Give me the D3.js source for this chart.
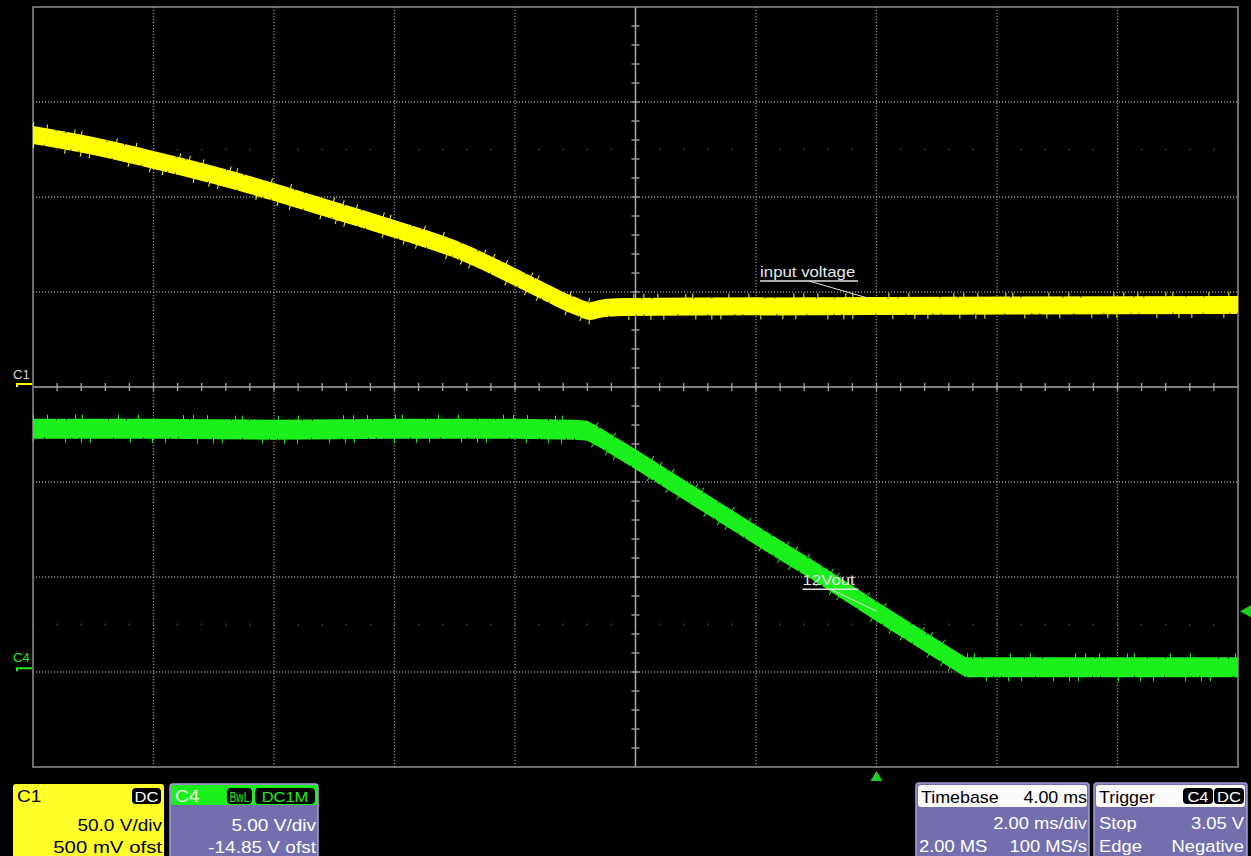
<!DOCTYPE html>
<html><head><meta charset="utf-8">
<script src="https://cdn.jsdelivr.net/npm/d3@7"></script>
<style>
html,body{margin:0;padding:0;background:#000;overflow:hidden;}
svg{display:block;}
text{font-family:"Liberation Sans",Arial,sans-serif;}
</style></head><body>
<svg id="scope" width="1251" height="856"></svg>
<script>
// ---------------- data ----------------
// time axis (ms, trigger at 0), 2 ms/div, 10 divisions
const timeTicks = [-14,-12,-10,-8,-6,-4,-2,0,2,4,6];
const divTicks  = [-4,-3,-2,-1,0,1,2,3,4];

// C1 : input voltage (V)   50 V/div, 500 mV offset
const c1Times = [-14,-13,-12,-11,-10,-9,-8,-7,-6,-5.5,-5,-4.75,-4.6,-4.2,0,6];
const c1Volts = [132.1,126.3,119.0,111.1,102.1,92.4,82.7,72.1,57.4,49.5,42.1,39.5,40.6,41.6,42.1,42.7];
// C4 : 12 V output (V)     5 V/div, -14.85 V offset
const c4Times = [-14,-12,-10,-8,-6,-5,-4.8,-4.6,-4,-3,-2,-1,0,1,1.48,2,4,6];
const c4Volts = [12.65,12.65,12.6,12.65,12.65,12.6,12.55,12.2,11.05,9.05,7.05,5.1,3.05,1.05,0.1,0.1,0.1,0.1];

const c1Scale = 50.0, c1Offset = 0.5;
const c4Scale = 5.0,  c4Offset = -14.85;
const trigTime = 0, trigLevel = 3.05;

const annotations = [
  {text:"input voltage", ch:"C1", t:-0.14, v:46.3, lx:-108, ly:-17, w:98},
  {text:"12Vout",        ch:"C4", t:0.0,   v:3.05, lx:-74,  ly:-22, w:56}
];

const c1Panel = {name:"C1", badges:["DC"], rows:["50.0 V/div","500 mV ofst"]};
const c4Panel = {name:"C4", badges:["BwL","DC1M"], rows:["5.00 V/div","-14.85 V ofst"]};
const tbPanel = {title:"Timebase", value:"4.00 ms", rows:[["","2.00 ms/div"],["2.00 MS","100 MS/s"]]};
const trPanel = {title:"Trigger", badges:["C4","DC"], rows:[["Stop","3.05 V"],["Edge","Negative"]]};

// ---------------- drawing ----------------
const svg = d3.select("#scope");
const W = 1251, H = 856;
svg.append("rect").attr("width",W).attr("height",H).attr("fill","#000");

const x = d3.scaleLinear().domain([-14,6]).range([33,1238]);
const y = d3.scaleLinear().domain([-4,4]).range([767,7]);
const c1Div = v => (v + c1Offset) / c1Scale;
const c4Div = v => (v + c4Offset) / c4Scale;

const YEL = "#ffff00", GRN = "#1cf01c", PUR = "#736fae";

// faint minor dots rows
const minorT = d3.range(-14, 6.001, 0.4);
[2.5,-2.5].forEach(d=>{
  svg.append("g").selectAll("rect").data(minorT).join("rect")
    .attr("x",t=>x(t)-1).attr("y",y(d)-1).attr("width",2).attr("height",2)
    .attr("fill","#2c2c2c");
});

// grid
const grid = svg.append("g");
grid.selectAll("line.v").data(timeTicks.filter(t=>t>-14 && t<6 && t!==-4)).join("line")
  .attr("x1",d=>x(d)).attr("x2",d=>x(d)).attr("y1",y(4)).attr("y2",y(-4))
  .attr("stroke","#8a8a8a").attr("stroke-width",1.3).attr("stroke-dasharray","1.2,1.8");
grid.selectAll("line.h").data(divTicks.filter(d=>d>-4 && d<4 && d!==0)).join("line")
  .attr("y1",d=>y(d)).attr("y2",d=>y(d)).attr("x1",x(-14)).attr("x2",x(6))
  .attr("stroke","#8a8a8a").attr("stroke-width",1.3).attr("stroke-dasharray","1.2,1.8");
// center axes
grid.append("line").attr("x1",x(-4)).attr("x2",x(-4)).attr("y1",y(4)).attr("y2",y(-4))
  .attr("stroke","#a8a8a8").attr("stroke-width",1.5);
grid.append("line").attr("y1",y(0)).attr("y2",y(0)).attr("x1",x(-14)).attr("x2",x(6))
  .attr("stroke","#a8a8a8").attr("stroke-width",1.5);
grid.selectAll("line.tx").data(minorT.slice(1,-1)).join("line")
  .attr("x1",d=>x(d)).attr("x2",d=>x(d)).attr("y1",y(0)-4).attr("y2",y(0)+4)
  .attr("stroke","#a8a8a8").attr("stroke-width",1.3);
grid.selectAll("line.ty").data(d3.range(-4,4.001,0.2).slice(1,-1)).join("line")
  .attr("y1",d=>y(d)).attr("y2",d=>y(d)).attr("x1",x(-4)-4).attr("x2",x(-4)+4)
  .attr("stroke","#a8a8a8").attr("stroke-width",1.3);
// border
grid.append("rect").attr("x",x(-14)).attr("y",y(4)).attr("width",x(6)-x(-14)).attr("height",y(-4)-y(4))
  .attr("fill","none").attr("stroke","#8e8e8e").attr("stroke-width",1.5);

// traces
function drawTrace(times, volts, divFn, color, half, curve){
  const pts = times.map((t,i)=>({t, d:divFn(volts[i])}));
  const g = svg.append("g");
  g.append("path").datum(pts)
    .attr("d", d3.area().curve(curve).x(p=>x(p.t)).y0(p=>y(p.d)+half).y1(p=>y(p.d)-half))
    .attr("fill", color);
  const edge = off => d3.line().curve(curve).x(p=>x(p.t)).y(p=>y(p.d)+off);
  // glitch spikes outside the band
  g.append("path").datum(pts).attr("d",edge(-half-1.5)).attr("fill","none")
    .attr("stroke",color).attr("stroke-width",5)
    .attr("stroke-dasharray","1,13,1,27,1,6,1,35,1,19,1,44,1,9");
  g.append("path").datum(pts).attr("d",edge(half+1.5)).attr("fill","none")
    .attr("stroke",color).attr("stroke-width",5)
    .attr("stroke-dasharray","1,31,1,15,1,8,1,39,1,21,1,12");
  // dark notches at edges
  g.append("path").datum(pts).attr("d",edge(-half+0.5)).attr("fill","none")
    .attr("stroke","#000").attr("stroke-width",2).attr("stroke-opacity",0.7)
    .attr("stroke-dasharray","0,23,1,9,1,41,1,17,1,29");
  g.append("path").datum(pts).attr("d",edge(half-0.5)).attr("fill","none")
    .attr("stroke","#000").attr("stroke-width",2).attr("stroke-opacity",0.7)
    .attr("stroke-dasharray","0,11,1,26,1,7,1,33,1,18");
}
drawTrace(c1Times, c1Volts, c1Div, YEL, 9, d3.curveMonotoneX);
drawTrace(c4Times, c4Volts, c4Div, GRN, 10, d3.curveLinear);

// text helper (horizontally stretched font like the scope)
function txt(g, px, py, s, o={}){
  const sx = o.sx || 1.12;
  return g.append("text").attr("transform",`translate(${px},${py}) scale(${sx},1)`)
    .attr("font-size", o.size || 17).attr("fill", o.fill || "#fff")
    .attr("text-anchor", o.anchor || "start").text(s);
}

// annotations
annotations.forEach(a=>{
  const divFn = a.ch==="C1" ? c1Div : c4Div;
  const tx = x(a.t), ty = y(divFn(a.v));
  const lx = tx + a.lx, ly = ty + a.ly;
  const g = svg.append("g");
  txt(g, lx, ly-4, a.text, {size:14, sx:1.2, fill:"#e8e8e8"});
  g.append("line").attr("x1",lx).attr("x2",lx+a.w).attr("y1",ly).attr("y2",ly)
    .attr("stroke","#e0e0e0").attr("stroke-width",1.5);
  g.append("line").attr("x1",lx+a.w*0.5).attr("x2",tx).attr("y1",ly).attr("y2",ty)
    .attr("stroke","#e0e0e0").attr("stroke-width",1);
});

// channel ground markers
const mk = svg.append("g");
txt(mk, 13, y(c1Div(0))-7, "C1", {size:12, sx:1.1, fill:"#d0d0d0"});
mk.append("path").attr("d",`M17,${y(c1Div(0))+1}v-3h15`).attr("fill","none").attr("stroke",YEL).attr("stroke-width",2);
txt(mk, 13, y(c4Div(0))-7, "C4", {size:12, sx:1.1, fill:GRN});
mk.append("path").attr("d",`M17,${y(c4Div(0))+2}v-3h15`).attr("fill","none").attr("stroke",GRN).attr("stroke-width",2);

// trigger markers
const tX = x(trigTime);
svg.append("path").attr("d",`M${tX},${y(-4)+4}L${tX+6},${y(-4)+14}L${tX-6},${y(-4)+14}Z`).attr("fill","#20d020");
const tY = y(c4Div(trigLevel));
svg.append("path").attr("d",`M${x(6)+2},${tY}L${W},${tY-6}L${W},${tY+6}Z`).attr("fill","#20d020");

// ---------------- info panels ----------------
const P = svg.append("g");
function badge(g, bx, by, w, s, color){
  g.append("rect").attr("x",bx).attr("y",by).attr("width",w).attr("height",16).attr("rx",4).attr("fill","#000");
  const t = g.append("text").attr("font-size",15).attr("fill",color).text(s);
  const nat = t.node().getComputedTextLength();
  const sx = Math.min(1.1, (w-5)/nat);
  t.attr("transform",`translate(${bx+w/2},${by+13.5}) scale(${sx},1)`).attr("text-anchor","middle");
}
// C1
{
  const g = P.append("g");
  g.append("rect").attr("x",13).attr("y",784).attr("width",151).attr("height",76).attr("rx",3).attr("fill","#ffff2a");
  txt(g, 17, 802, c1Panel.name, {fill:"#000"});
  badge(g, 132, 788, 29, c1Panel.badges[0], "#fff");
  txt(g, 162, 831, c1Panel.rows[0], {fill:"#000", anchor:"end"});
  txt(g, 162, 853, c1Panel.rows[1], {fill:"#000", anchor:"end", sx:1.2});
}
// C4
{
  const g = P.append("g");
  g.append("rect").attr("x",170).attr("y",784).attr("width",148).attr("height",76).attr("rx",3)
    .attr("fill",PUR).attr("stroke","#a5a2d2").attr("stroke-width",1.5);
  g.append("rect").attr("x",171).attr("y",785).attr("width",146).attr("height",20).attr("rx",2).attr("fill",GRN);
  txt(g, 175, 802, c4Panel.name, {fill:"#f0fff0"});
  badge(g, 227, 788, 25, c4Panel.badges[0], GRN);
  badge(g, 255, 788, 60, c4Panel.badges[1], GRN);
  txt(g, 316, 831, c4Panel.rows[0], {anchor:"end"});
  txt(g, 316, 853, c4Panel.rows[1], {anchor:"end"});
}
// Timebase
{
  const g = P.append("g");
  g.append("rect").attr("x",916).attr("y",783).attr("width",173).attr("height",77).attr("rx",3)
    .attr("fill",PUR).attr("stroke","#a5a2d2").attr("stroke-width",1.5);
  g.append("rect").attr("x",918).attr("y",785).attr("width",169).attr("height",22).attr("rx",3).attr("fill","#fafafa");
  txt(g, 921, 803, tbPanel.title, {fill:"#000", sx:1.05});
  txt(g, 1087, 803, tbPanel.value, {fill:"#000", anchor:"end", sx:1.05});
  txt(g, 1087, 829, tbPanel.rows[0][1], {anchor:"end", sx:1.08});
  txt(g, 919, 852, tbPanel.rows[1][0], {sx:1.08});
  txt(g, 1087, 852, tbPanel.rows[1][1], {anchor:"end", sx:1.08});
}
// Trigger
{
  const g = P.append("g");
  g.append("rect").attr("x",1094).attr("y",783).attr("width",153).attr("height",77).attr("rx",3)
    .attr("fill",PUR).attr("stroke","#a5a2d2").attr("stroke-width",1.5);
  g.append("rect").attr("x",1096).attr("y",785).attr("width",149).attr("height",22).attr("rx",3).attr("fill","#fafafa");
  txt(g, 1099, 803, trPanel.title, {fill:"#000", sx:1.05});
  badge(g, 1183, 788, 30, trPanel.badges[0], "#fff");
  badge(g, 1214, 788, 30, trPanel.badges[1], "#fff");
  txt(g, 1099, 829, trPanel.rows[0][0], {sx:1.08});
  txt(g, 1244, 829, trPanel.rows[0][1], {anchor:"end", sx:1.08});
  txt(g, 1099, 852, trPanel.rows[1][0], {sx:1.08});
  txt(g, 1244, 852, trPanel.rows[1][1], {anchor:"end", sx:1.08});
}
</script>
</body></html>
